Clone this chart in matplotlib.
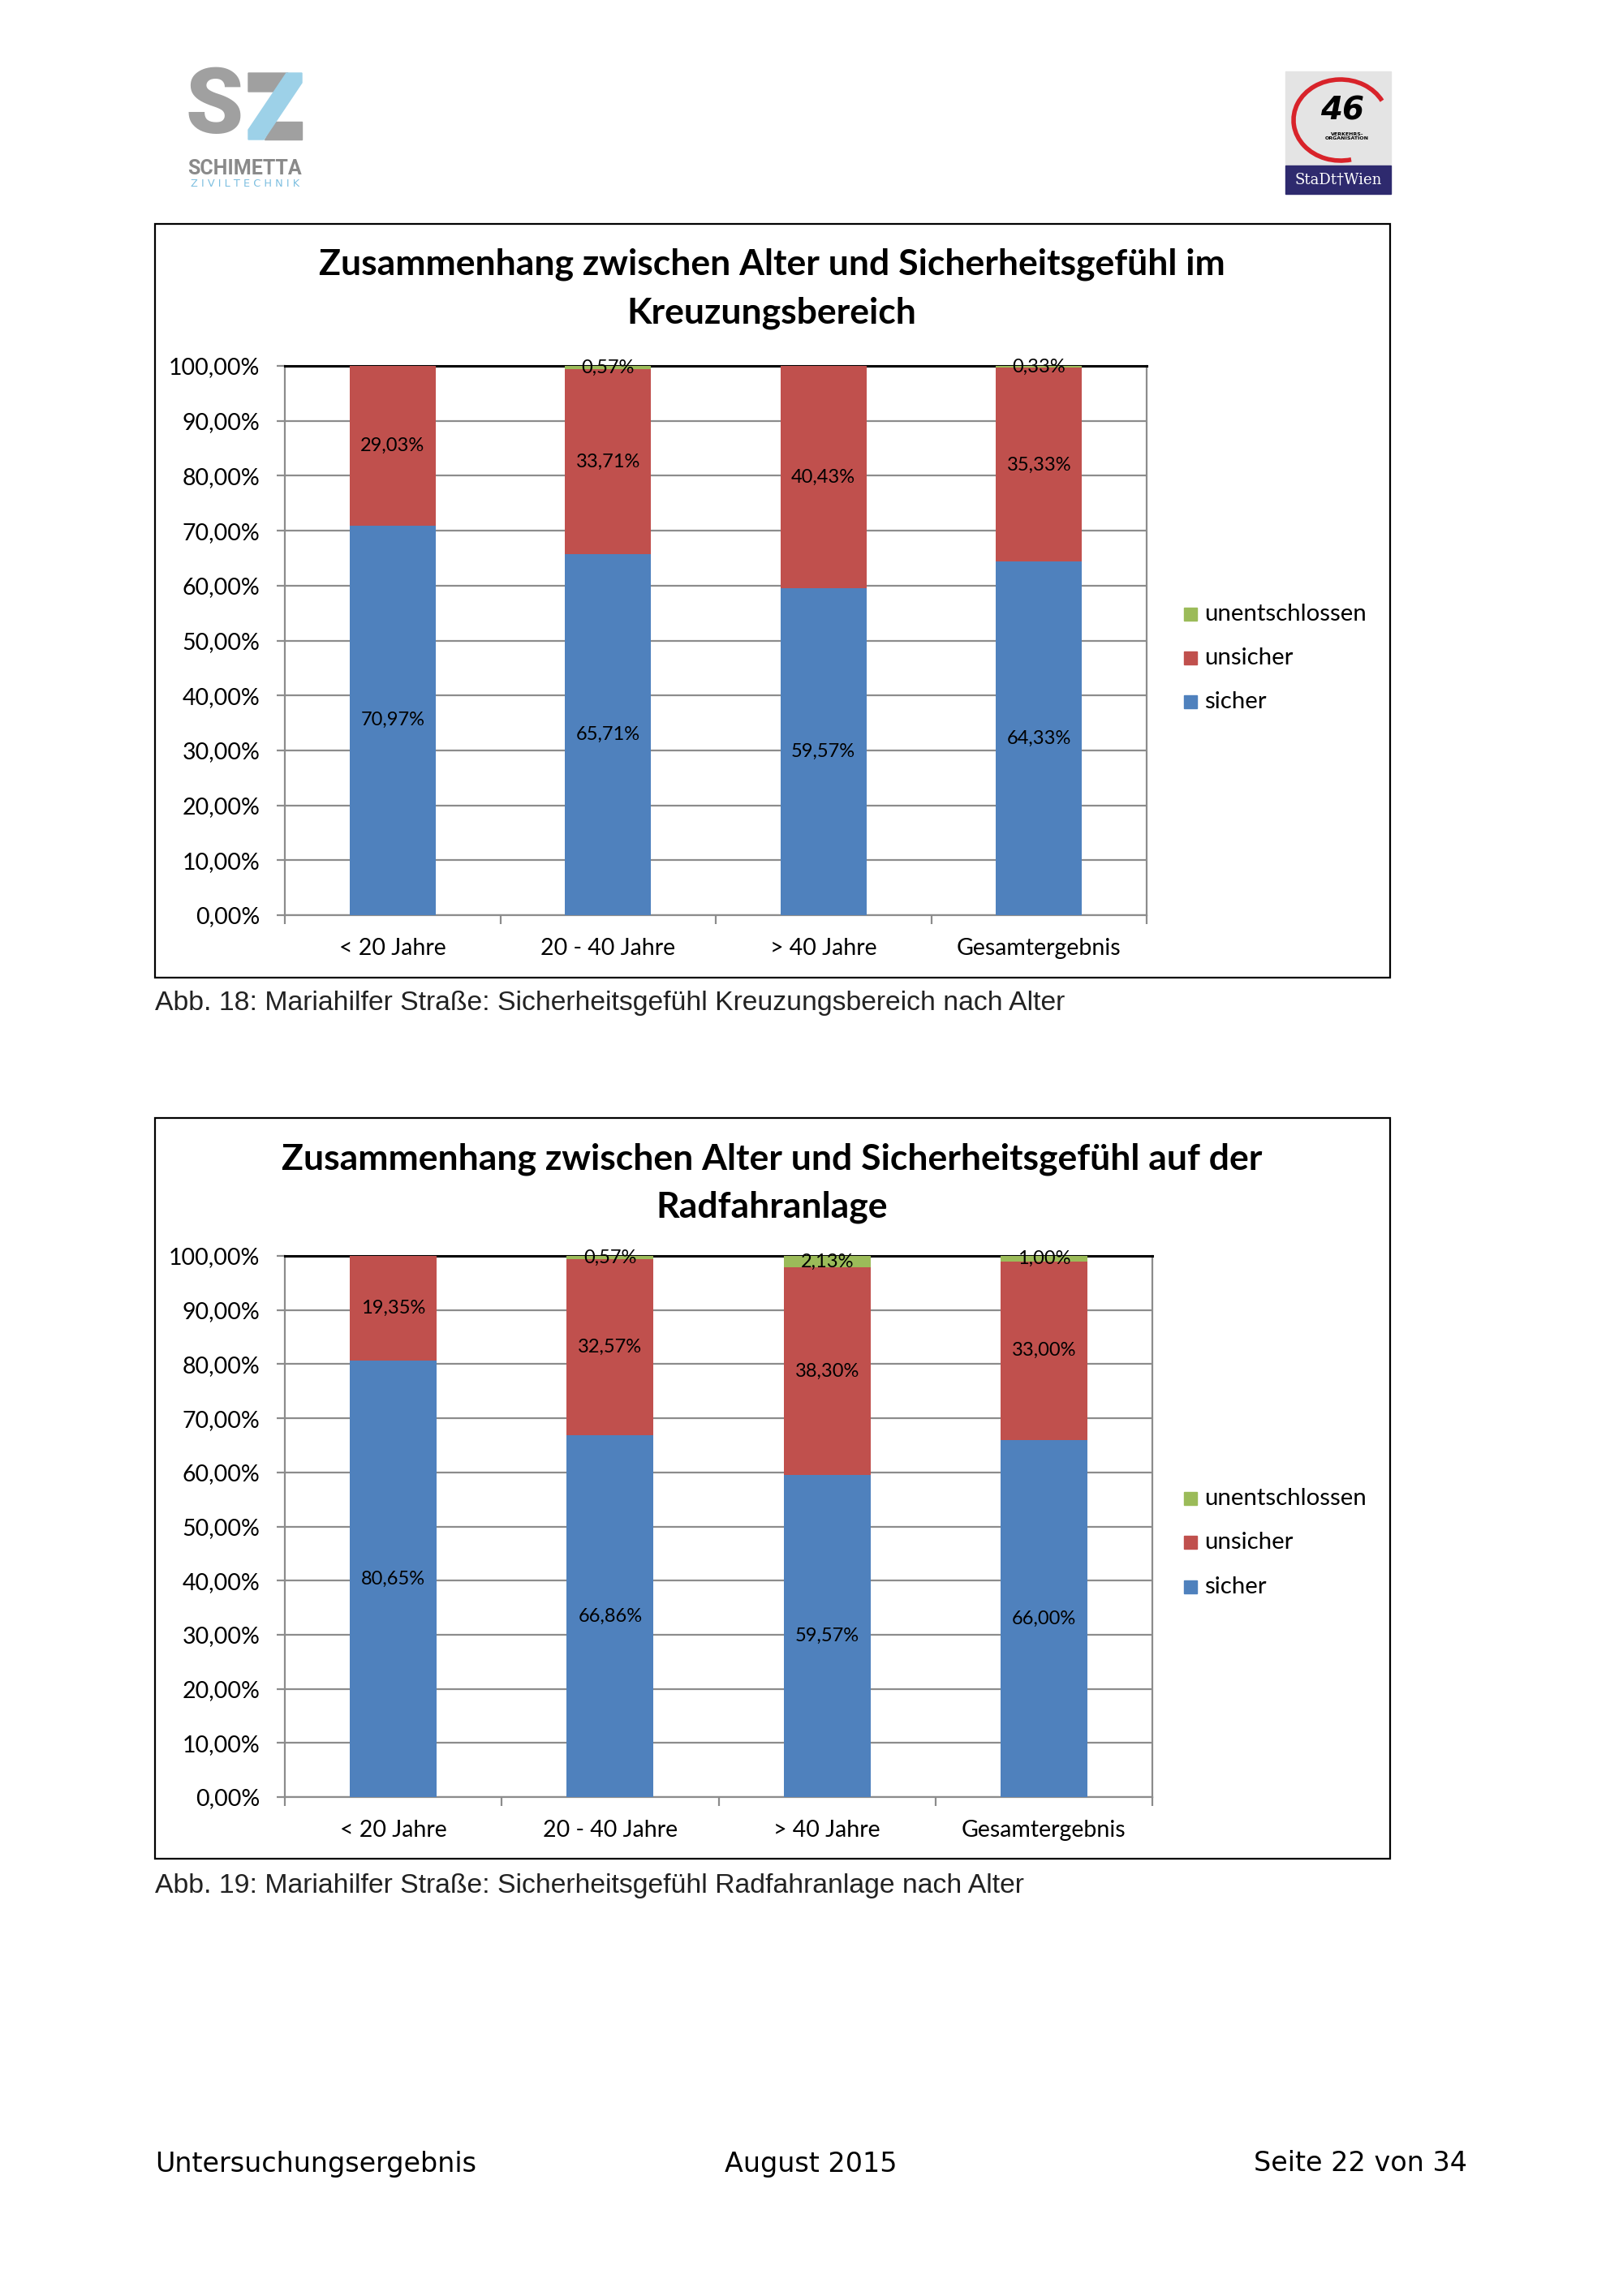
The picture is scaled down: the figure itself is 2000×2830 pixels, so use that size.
import matplotlib
matplotlib.use("Agg")
import matplotlib.pyplot as plt
from matplotlib.patches import Rectangle, Polygon, Arc
from matplotlib.ticker import FuncFormatter, FixedLocator

# --- Daten ---
categories = ["< 20 Jahre", "20 - 40 Jahre", "> 40 Jahre", "Gesamtergebnis"]
series_names = ["sicher", "unsicher", "unentschlossen"]
series_colors = ["#4F81BD", "#C0504D", "#9BBB59"]

kreuzung_sicher = [70.97, 65.71, 59.57, 64.33]
kreuzung_unsicher = [29.03, 33.71, 40.43, 35.33]
kreuzung_unentschlossen = [0.0, 0.57, 0.0, 0.33]

radfahr_sicher = [80.65, 66.86, 59.57, 66.00]
radfahr_unsicher = [19.35, 32.57, 38.30, 33.00]
radfahr_unentschlossen = [0.0, 0.57, 2.13, 1.00]

y_ticks = [0, 10, 20, 30, 40, 50, 60, 70, 80, 90, 100]

W, H = 2000, 2830
CHART_FONT = ["Lato", "DejaVu Sans"]
GRID_COL = "#8C8C8C"


def fig_rect(x0, y0, x1, y1):
    # Pixelkoordinaten (oben links) -> Figurenkoordinaten
    return [x0 / W, 1 - y1 / H, (x1 - x0) / W, (y1 - y0) / H]


def pct(v, pos=None):
    return f"{v:.2f}%".replace(".", ",")


fig = plt.figure(figsize=(W / 100, H / 100), dpi=100)
page = fig.add_axes([0, 0, 1, 1])
page.set_xlim(0, W)
page.set_ylim(H, 0)
page.axis("off")


def draw_chart(frame, plot, title_lines, title_ys, legend_ys, caption, caption_y, values):
    fx0, fy0, fx1, fy1 = frame
    page.add_patch(Rectangle((fx0, fy0), fx1 - fx0, fy1 - fy0, fill=False,
                             edgecolor="black", linewidth=1.6))
    cx = 951
    for line, ty in zip(title_lines, title_ys):
        page.text(cx, ty, line, ha="center", va="center", fontsize=32,
                  fontweight="bold", family=CHART_FONT, color="black")

    ax = fig.add_axes(fig_rect(*plot))
    x = list(range(len(categories)))
    bottom = [0.0] * len(categories)
    for name, col, vals in zip(series_names, series_colors, values):
        ax.bar(x, vals, width=0.4, bottom=bottom, color=col,
               edgecolor="none", zorder=3, label=name)
        for xi, b, v in zip(x, bottom, vals):
            if v > 0:
                ax.text(xi, b + v / 2, pct(v), ha="center", va="center",
                        fontsize=17, family=CHART_FONT, color="black", zorder=4)
        bottom = [b + v for b, v in zip(bottom, vals)]

    ax.set_xlim(-0.5, len(categories) - 0.5)
    ax.set_ylim(0, 100)
    ax.yaxis.set_major_locator(FixedLocator(y_ticks))
    ax.yaxis.set_major_formatter(FuncFormatter(pct))
    ax.grid(axis="y", color=GRID_COL, linewidth=1.6, zorder=0)
    ax.set_axisbelow(True)
    ax.set_xticks(x)
    ax.set_xticklabels(categories)
    ax.set_xticks([i - 0.5 for i in range(len(categories) + 1)], minor=True)
    ax.tick_params(axis="x", which="major", length=0, pad=20, labelsize=20.5)
    ax.tick_params(axis="x", which="minor", length=8, width=1.6, color=GRID_COL)
    ax.tick_params(axis="y", length=7, width=1.6, color=GRID_COL, pad=15, labelsize=20.5)
    for lab in ax.get_xticklabels() + ax.get_yticklabels():
        lab.set_family(CHART_FONT)
    for side in ["left", "bottom", "right"]:
        ax.spines[side].set_color(GRID_COL)
        ax.spines[side].set_linewidth(1.6)
    ax.spines["top"].set_color("black")
    ax.spines["top"].set_linewidth(2.2)

    # Legende (umgekehrte Reihenfolge wie in Excel)
    for name, col, ly in zip(series_names, series_colors, legend_ys):
        page.add_patch(Rectangle((1459, ly - 8), 16, 16, color=col))
        page.text(1484, ly, name, ha="left", va="center", fontsize=21.2,
                  family=CHART_FONT, color="black")

    page.text(fx0, caption_y, caption, ha="left", va="center", fontsize=24.3,
              family=["Liberation Sans", "DejaVu Sans"], color="#222222")


draw_chart((191, 276, 1713, 1205), (351, 451, 1413, 1128),
           ["Zusammenhang zwischen Alter und Sicherheitsgefühl im", "Kreuzungsbereich"],
           [326, 386], [865, 811, 757],
           "Abb. 18: Mariahilfer Straße: Sicherheitsgefühl Kreuzungsbereich nach Alter", 1237,
           [kreuzung_sicher, kreuzung_unsicher, kreuzung_unentschlossen])

draw_chart((191, 1378, 1713, 2291), (351, 1548, 1420, 2215),
           ["Zusammenhang zwischen Alter und Sicherheitsgefühl auf der", "Radfahranlage"],
           [1429, 1488], [1956, 1901, 1847],
           "Abb. 19: Mariahilfer Straße: Sicherheitsgefühl Radfahranlage nach Alter", 2325,
           [radfahr_sicher, radfahr_unsicher, radfahr_unentschlossen])

# --- Logo links (SZ Schimetta) ---
page.text(229, 133, "S", ha="left", va="center", fontsize=82, fontweight="heavy",
          family=["Roboto", "DejaVu Sans"], color="#A0A0A0")
page.add_patch(Polygon([[306, 90], [355, 90], [342, 113], [306, 113]], closed=True,
                       color="#A0A0A0"))
page.add_patch(Polygon([[338, 150], [372, 150], [372, 172], [326, 172]], closed=True,
                       color="#A0A0A0"))
page.add_patch(Polygon([[353, 90], [372, 90], [372, 102], [325, 172], [306, 172],
                        [306, 160]], closed=True, color="#9DD1E8"))
page.text(302, 208, "SCHIMETTA", ha="center", va="center", fontsize=18,
          fontweight="bold", family=["Roboto", "DejaVu Sans"], color="#8A8A8A")
page.text(302, 227, "Z I V I L T E C H N I K", ha="center", va="center", fontsize=9.3,
          family=["DejaVu Sans"], color="#7DBFE0")

# --- Logo rechts (MA 46 / Stadt Wien) ---
page.add_patch(Rectangle((1584, 88), 130, 116, color="#E4E4E4"))
page.add_patch(Rectangle((1584, 204), 130, 35, color="#2E2A6E"))
page.add_patch(Arc((1652, 148), 116, 100, theta1=75, theta2=335, color="#D8232A", linewidth=4))
page.text(1654, 137, "46", ha="center", va="center", fontsize=28, fontweight="bold",
          style="italic", family=["DejaVu Sans"], color="black")
page.text(1660, 168, "VERKEHRS-\nORGANISATION", ha="center", va="center", fontsize=4.5,
          fontweight="bold", family=["DejaVu Sans"], color="black", linespacing=1.2)
page.text(1649, 222, "StaDt\u2020Wien", ha="center", va="center", fontsize=13,
          family=["DejaVu Serif"], color="white")

# --- Fußzeile ---
footer_font = ["DejaVu Sans"]
page.text(191, 2667, "Untersuchungsergebnis", ha="left", va="center", fontsize=24,
          family=footer_font, color="black")
page.text(999, 2667, "August 2015", ha="center", va="center", fontsize=24,
          family=footer_font, color="black")
page.text(1808, 2667, "Seite 22 von 34", ha="right", va="center", fontsize=24,
          family=footer_font, color="black")

fig.savefig("out.png", dpi=100, facecolor="white")
plt.close(fig)
